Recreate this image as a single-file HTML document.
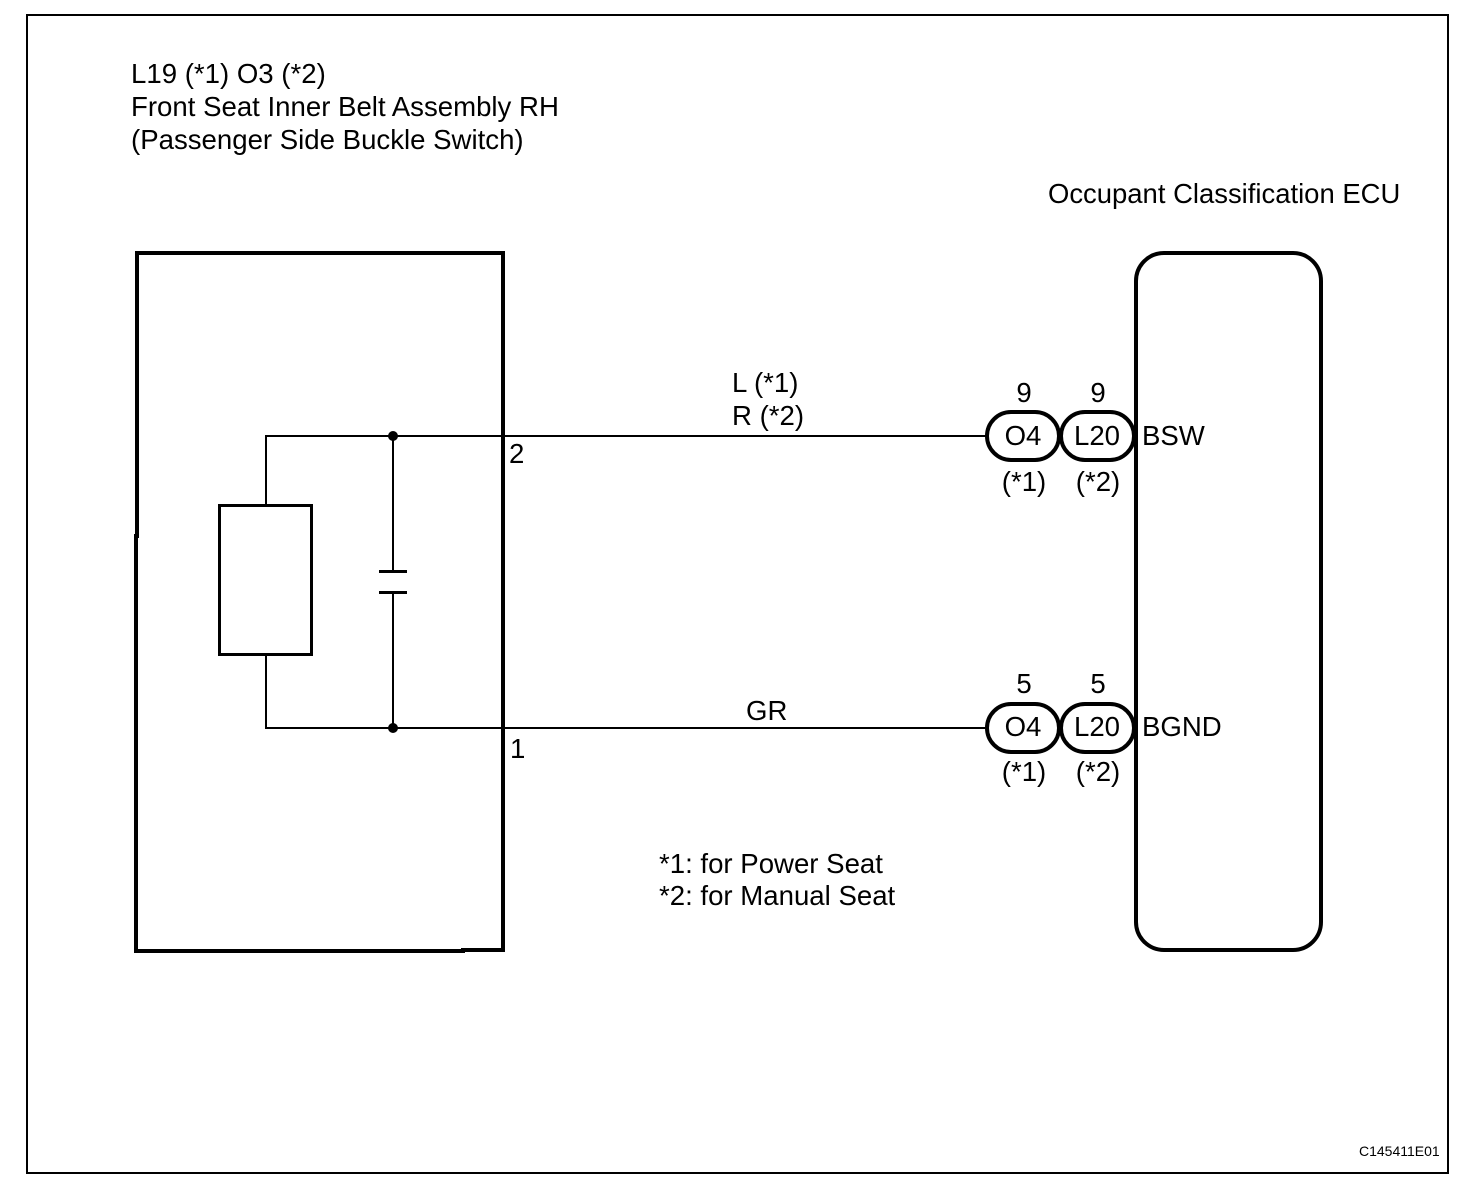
<!DOCTYPE html>
<html>
<head>
<meta charset="utf-8">
<style>
html,body{margin:0;padding:0;background:#fff;}
svg{display:block;}
text{font-family:"Liberation Sans",sans-serif;font-size:27.6px;fill:#000;}
</style>
</head>
<body>
<svg width="1472" height="1190" viewBox="0 0 1472 1190" xmlns="http://www.w3.org/2000/svg">
<rect width="1472" height="1190" fill="#fff"/>
<rect x="27" y="15" width="1421" height="1158" fill="none" stroke="#000" stroke-width="2"/>
<text x="131" y="83">L19 (*1) O3 (*2)</text>
<text x="131" y="116">Front Seat Inner Belt Assembly RH</text>
<text x="131" y="149">(Passenger Side Buckle Switch)</text>
<text x="1048" y="203" style="font-size:27.45px;">Occupant Classification ECU</text>
<path d="M137 536V253H503V950H463" fill="none" stroke="#000" stroke-width="4" stroke-linecap="square"/>
<path d="M136 536V951H463" fill="none" stroke="#000" stroke-width="4" stroke-linecap="square"/>
<rect x="1136" y="253" width="185" height="697" rx="28" ry="28" fill="none" stroke="#000" stroke-width="4"/>
<path d="M266 505V436H987M266 654V728H987M393 436V571M393 593V728" fill="none" stroke="#000" stroke-width="2"/>
<path d="M379 571.500H407M379 592.500H407" fill="none" stroke="#000" stroke-width="3"/>
<rect x="219.500" y="505.500" width="92" height="149" fill="none" stroke="#000" stroke-width="3"/>
<circle cx="393" cy="436" r="5"/>
<circle cx="393" cy="728" r="5"/>
<rect x="987" y="412" width="72" height="48" rx="24" fill="#fff" stroke="#000" stroke-width="4"/>
<rect x="1061" y="412" width="73" height="48" rx="24" fill="#fff" stroke="#000" stroke-width="4"/>
<rect x="987" y="704" width="72" height="48" rx="24" fill="#fff" stroke="#000" stroke-width="4"/>
<rect x="1061" y="704" width="73" height="48" rx="24" fill="#fff" stroke="#000" stroke-width="4"/>
<text x="732" y="392">L (*1)</text>
<text x="732" y="425">R (*2)</text>
<text x="746" y="720">GR</text>
<text x="509" y="463">2</text>
<text x="510" y="758">1</text>
<text x="1024" y="402" text-anchor="middle">9</text>
<text x="1098" y="402" text-anchor="middle">9</text>
<text x="1023" y="445" text-anchor="middle">O4</text>
<text x="1097" y="445" text-anchor="middle">L20</text>
<text x="1024" y="491" text-anchor="middle">(*1)</text>
<text x="1098" y="491" text-anchor="middle">(*2)</text>
<text x="1142" y="445">BSW</text>
<text x="1024" y="693" text-anchor="middle">5</text>
<text x="1098" y="693" text-anchor="middle">5</text>
<text x="1023" y="736" text-anchor="middle">O4</text>
<text x="1097" y="736" text-anchor="middle">L20</text>
<text x="1024" y="781" text-anchor="middle">(*1)</text>
<text x="1098" y="781" text-anchor="middle">(*2)</text>
<text x="1142" y="736">BGND</text>
<text x="659" y="873">*1: for Power Seat</text>
<text x="659" y="905">*2: for Manual Seat</text>
<text x="1359" y="1156" style="font-size:14px;">C145411E01</text>
</svg>
</body>
</html>
